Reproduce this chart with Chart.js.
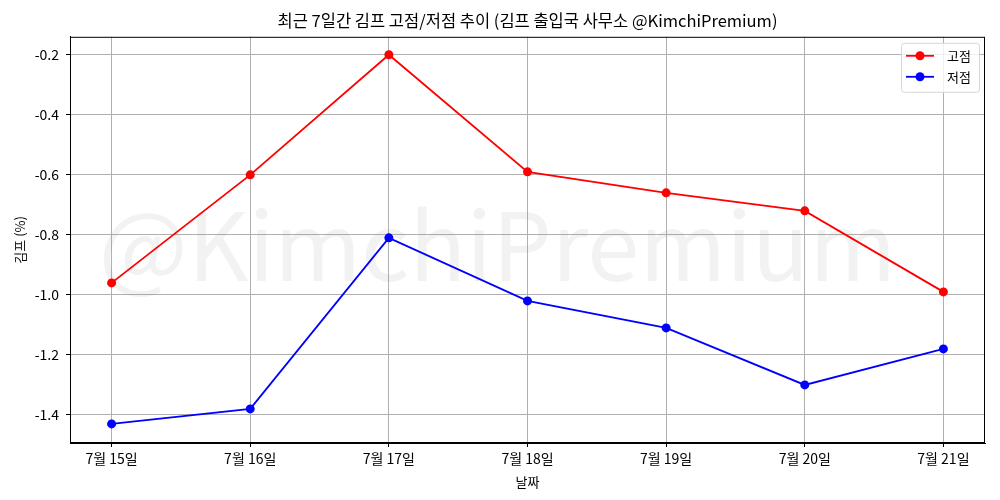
<!DOCTYPE html>
<html>
<head>
<meta charset="utf-8">
<script src="https://cdn.jsdelivr.net/npm/chart.js@4"></script>
<style>
  body { margin: 0; background: #fff; }
  #wrap { width: 1000px; height: 500px; }
</style>
</head>
<body>
<div id="wrap"><canvas id="kimpChart"></canvas></div>
<script>
const dates = ['7월 15일', '7월 16일', '7월 17일', '7월 18일', '7월 19일', '7월 20일', '7월 21일'];
const highs = [-0.96, -0.60, -0.20, -0.59, -0.66, -0.72, -0.99];
const lows = [-1.43, -1.38, -0.81, -1.02, -1.11, -1.30, -1.18];
const yTicks = [-1.4, -1.2, -1.0, -0.8, -0.6, -0.4, -0.2];

const FONT = '"Noto Sans CJK KR", "Noto Sans", sans-serif';

// frame, watermark and legend like matplotlib
const extras = {
    id: 'extras',
    beforeDatasetsDraw(chart) {
        const { ctx, chartArea: a } = chart;
        ctx.save();
        ctx.beginPath();
        ctx.rect(a.left, a.top, a.right - a.left, a.bottom - a.top);
        ctx.clip();
        ctx.fillStyle = 'rgba(128,128,128,0.1)';
        ctx.font = '94px ' + FONT;
        ctx.textAlign = 'center';
        ctx.textBaseline = 'middle';
        ctx.fillText('@KimchiPremium', (a.left + a.right) / 2 - 30, 245);
        ctx.restore();
    },
    afterDatasetsDraw(chart) {
        const { ctx, chartArea: a } = chart;
        ctx.save();
        ctx.strokeStyle = '#000';
        ctx.lineWidth = 1;
        ctx.strokeRect(a.left + 0.5, a.top + 0.5, a.right - a.left - 1, a.bottom - a.top - 1);

        // legend
        const bx = a.right - 84, by = a.top + 6, bw = 78, bh = 49;
        ctx.fillStyle = 'rgba(255,255,255,0.8)';
        ctx.strokeStyle = '#d6d6d6';
        ctx.beginPath();
        ctx.roundRect(bx + 0.5, by + 0.5, bw, bh, 3);
        ctx.fill();
        ctx.stroke();
        ctx.font = '13px ' + FONT;
        ctx.textBaseline = 'middle';
        chart.data.datasets.forEach((ds, i) => {
            const y = by + 13 + i * 21;
            ctx.strokeStyle = ds.borderColor;
            ctx.lineWidth = 1.8;
            ctx.beginPath();
            ctx.moveTo(bx + 5, y);
            ctx.lineTo(bx + 33, y);
            ctx.stroke();
            ctx.fillStyle = ds.borderColor;
            ctx.beginPath();
            ctx.arc(bx + 19, y, 4.5, 0, Math.PI * 2);
            ctx.fill();
            ctx.fillStyle = '#000';
            ctx.fillText(ds.label, bx + 46, y);
        });
        ctx.restore();
    }
};

const ctx = document.getElementById('kimpChart').getContext('2d');
new Chart(ctx, {
    type: 'line',
    data: {
        datasets: [
            {
                label: '고점',
                data: highs.map((v, i) => ({ x: i, y: v })),
                borderColor: '#ff0000',
                backgroundColor: '#ff0000',
                borderWidth: 1.8,
                pointRadius: 4.5,
                pointBorderWidth: 0,
                tension: 0
            },
            {
                label: '저점',
                data: lows.map((v, i) => ({ x: i, y: v })),
                borderColor: '#0000ff',
                backgroundColor: '#0000ff',
                borderWidth: 1.8,
                pointRadius: 4.5,
                pointBorderWidth: 0,
                tension: 0
            }
        ]
    },
    options: {
        responsive: true,
        maintainAspectRatio: false,
        animation: false,
        layout: { padding: { left: 0, right: 15, bottom: 0, top: 0 } },
        plugins: {
            legend: { display: false },
            tooltip: { enabled: false },
            title: {
                display: true,
                fullSize: false,
                text: '최근 7일간 김프 고점/저점 추이 (김프 출입국 사무소 @KimchiPremium)',
                color: '#000',
                font: { family: FONT, size: 16.5, weight: 'normal' },
                padding: { top: 11, bottom: 6 }
            }
        },
        scales: {
            x: {
                type: 'linear',
                min: -0.3,
                max: 6.3,
                afterBuildTicks(scale) {
                    scale.ticks = dates.map((d, i) => ({ value: i }));
                },
                afterFit(scale) { scale.height = 57; },
                ticks: {
                    color: '#000',
                    font: { family: FONT, size: 14 },
                    padding: 3,
                    maxRotation: 0,
                    callback: v => dates[v]
                },
                grid: { color: '#b0b0b0', tickColor: '#000', tickLength: 4 },
                border: { color: '#000' },
                title: {
                    display: true,
                    text: '날짜',
                    color: '#000',
                    font: { family: FONT, size: 13 },
                    padding: { top: 0, bottom: 10 }
                }
            },
            y: {
                min: -1.4935,
                max: -0.14,
                afterBuildTicks(scale) {
                    scale.ticks = yTicks.map(v => ({ value: v }));
                },
                afterFit(scale) { scale.width = 70; },
                ticks: {
                    color: '#000',
                    font: { family: FONT, size: 14 },
                    padding: 7,
                    callback: v => v.toFixed(1)
                },
                grid: { color: '#b0b0b0', tickColor: '#000', tickLength: 4 },
                border: { color: '#000' },
                title: {
                    display: true,
                    text: '김프 (%)',
                    color: '#000',
                    font: { family: FONT, size: 13 },
                    padding: { top: 12, bottom: 4 }
                }
            }
        }
    },
    plugins: [extras]
});
</script>
</body>
</html>
